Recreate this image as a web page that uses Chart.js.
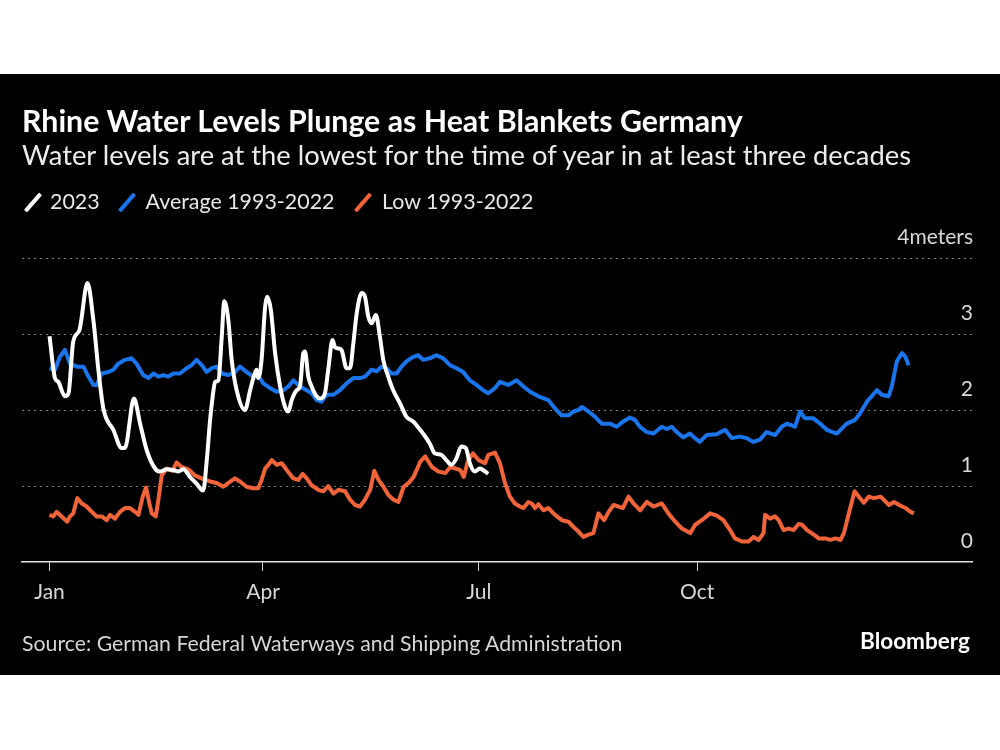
<!DOCTYPE html>
<html><head><meta charset="utf-8">
<script src="https://cdn.jsdelivr.net/npm/chart.js@4.4.0/dist/chart.umd.min.js"></script>
<style>
html,body{margin:0;padding:0;background:#fff;}
#wrap{position:relative;width:1000px;height:750px;overflow:hidden;background:#fff;}
#panel{position:absolute;left:0;top:74px;width:1000px;height:601px;background:#000;}
#c{position:absolute;left:0;top:0;}
.t{position:absolute;white-space:nowrap;font-family:Lato,'Noto Sans',sans-serif;color:#fff;margin:0;padding:0;}
.sw{position:absolute;width:4px;height:23px;border-radius:1px;transform:rotate(41deg);}
</style></head>
<body>
<div id="wrap">
  <div id="panel"></div>
  <canvas id="c" width="1000" height="750"></canvas>
  <div id="title" class="t"></div>
  <div id="subtitle" class="t"></div>
  <div id="legend"></div>
  <div id="source" class="t"></div>
  <div id="brand" class="t"></div>
</div>
<script>
// ---------- text ----------
const titleText = "Rhine Water Levels Plunge as Heat Blankets Germany";
const subtitleText = "Water levels are at the lowest for the time of year in at least three decades";
const sourceText = "Source: German Federal Waterways and Shipping Administration";
const brandText = "Bloomberg";
const seriesNames = ["2023", "Average 1993-2022", "Low 1993-2022"];
const seriesColors = ["#ffffff", "#1a74ec", "#f1643a"];

// ---------- axes ----------
const tickDays = [0, 90, 181, 273];
const tickLabels = ["Jan", "Apr", "Jul", "Oct"];
const yTicks = [0, 1, 2, 3, 4];
const yTickLabels = ["0", "1", "2", "3", "4meters"];

// ---------- data (day of year, meters) ----------
const day2023 = [0,2.3,3.7,6.5,8,10,12.6,16,18.5,20.6,22.7,26.9,30.4,31.8,35.6,38.2,41,44.5,46.6,49.4,52,54.3,56.4,59.2,62,64.8,66.3,67.7,68.8,69.8,71.2,72.6,73.7,75.4,76.8,78.9,82.4,84.5,86.2,87.3,88,89.4,90.9,91.8,93.3,95.1,97.2,99.3,100.7,102.1,104.2,105.6,107,107.7,109.1,110.5,112.6,114,116.1,117.5,119.3,120.3,121.7,123.1,125.2,126.7,128.1,129.5,131.6,133,134.4,135.8,137.6,139.3,140.7,142.8,144.9,147.7,150.5,153.3,154.7,157.5,160.3,162.4,165.2,167.3,169.4,171.5,173.6,175.5,177.2,179.3,181.4,182.8,184.9];
const val2023 = [2.97,2.42,2.37,2.18,2.22,2.9,3.05,3.67,3.18,2.53,2.02,1.74,1.5,1.5,2.15,1.82,1.47,1.23,1.19,1.22,1.21,1.19,1.22,1.12,1.03,0.94,1.34,1.87,2.18,2.37,2.39,2.96,3.43,3.18,2.66,2.26,2.0,2.25,2.45,2.53,2.42,2.66,3.36,3.49,3.32,2.75,2.31,2.04,1.98,2.13,2.26,2.31,2.75,2.77,2.44,2.31,2.18,2.15,2.22,2.53,2.92,2.83,2.81,2.79,2.55,2.55,2.88,3.27,3.54,3.49,3.23,3.14,3.25,2.96,2.66,2.44,2.26,2.09,1.91,1.85,1.80,1.69,1.56,1.43,1.41,1.34,1.28,1.36,1.52,1.50,1.30,1.19,1.23,1.21,1.16];

const dayAvg = [0,2.3,4.4,6.5,8.6,11.5,14.3,16.4,18.5,19.9,22,24.8,26.9,29,31.8,34.6,36.7,39.5,41.7,43.8,45.9,48,50.1,52.2,55,57.8,59.9,62,64.2,66.3,68.4,70.5,72.6,75.4,78.2,80.3,83.1,85.9,88.7,90.1,92.9,95.7,98.6,100.7,102.8,105.6,108.4,110.5,112.6,114.7,116.8,119.6,122.4,125.2,128.1,130.9,133,135.8,137.9,140,142.1,144.2,146.3,148.4,150.5,153.3,155.4,157.5,160.3,163.1,166,168.8,171.6,174.4,177.2,180,182.8,185,187.8,189.9,193.4,196.9,199.8,202.6,206.1,210.3,213.1,215.9,218.8,220.9,223,224.4,227.2,230,232.8,236.3,239.1,241.9,244.7,246.8,248.9,251.7,254.6,258.1,260.2,262.3,264.4,267.2,270,272.1,274.2,277,281.3,284.8,287.6,291.1,293.9,296.7,299.5,302.3,305.9,308.7,310.8,314.3,316.4,318.5,322,324.9,327.7,331.9,336.1,339.6,341.8,344.6,348.8,350.9,353.7,355.1,357.2,359.4,360.8,362.2];
const valAvg = [2.55,2.53,2.70,2.79,2.61,2.57,2.57,2.44,2.33,2.33,2.48,2.50,2.53,2.61,2.66,2.68,2.61,2.46,2.42,2.48,2.44,2.46,2.44,2.48,2.48,2.55,2.59,2.66,2.59,2.50,2.55,2.57,2.48,2.46,2.50,2.57,2.50,2.44,2.42,2.35,2.29,2.24,2.26,2.31,2.39,2.31,2.26,2.22,2.13,2.11,2.20,2.20,2.26,2.35,2.42,2.42,2.44,2.53,2.51,2.57,2.55,2.48,2.48,2.57,2.64,2.70,2.72,2.66,2.68,2.72,2.68,2.59,2.55,2.50,2.39,2.33,2.26,2.22,2.29,2.37,2.33,2.39,2.31,2.24,2.18,2.13,2.02,1.93,1.93,1.98,2.0,2.04,1.98,1.91,1.82,1.82,1.78,1.85,1.90,1.87,1.78,1.71,1.69,1.78,1.75,1.78,1.71,1.64,1.69,1.63,1.58,1.67,1.68,1.74,1.63,1.65,1.63,1.58,1.61,1.71,1.67,1.78,1.82,1.78,1.98,1.89,1.89,1.82,1.74,1.69,1.82,1.87,1.96,2.11,2.26,2.20,2.18,2.31,2.64,2.75,2.70,2.59];

const dayLow = [0,1.6,3,5.1,7.5,8.6,10,11.7,13.6,15.7,17.8,19.9,22,24.1,25.5,27.6,29.7,31.8,33.9,36.1,37.5,39.3,40.7,42.1,43.1,44.8,45.9,47.3,49.4,51.9,53.6,55.7,58.5,61.3,64.8,67.7,70.5,73.3,75.4,78.2,80.3,83.1,85.9,88,89.4,90.9,92.3,93.7,95.8,97.9,100,102.8,104.9,106.7,108.4,110.5,113.3,115.4,117.5,119.7,121.8,124.6,126.7,128.8,130.9,133,135.2,136.9,138.7,140.8,142.9,145,147.1,149.3,151.4,153.5,156.3,158.4,161.2,164,166.9,169,171.1,173.2,174.6,176.3,178.5,180.9,183.6,185,187.8,189.9,192,194.1,196.2,198.3,199.8,201.9,203.3,204.7,206.1,208.2,210.3,213.1,216,218.8,220.9,223,225.1,227.2,229.3,231.4,233.8,235.7,237.8,239.9,241.7,244.1,246.2,249,251.8,254.6,258.1,260.9,263.8,266.6,270.1,272.2,275,278.5,281.3,284.1,286.9,289,291.9,294.7,296.8,298.9,301,301.7,303.8,305.9,307.4,309.5,311.6,313.7,315.8,317.3,319.4,322.2,324.3,327.1,329.2,331.3,333.5,334.9,337,339.4,341.2,343.3,345.4,347.5,350.4,353.9,356,358.8,360.9,363,364.4];
const valLow = [0.62,0.60,0.66,0.60,0.53,0.60,0.64,0.84,0.77,0.73,0.66,0.60,0.60,0.55,0.62,0.57,0.66,0.71,0.71,0.66,0.62,0.86,0.98,0.77,0.64,0.60,0.82,1.14,1.23,1.20,1.31,1.25,1.22,1.14,1.09,1.06,1.04,0.99,1.04,1.10,1.06,0.99,0.97,0.97,1.08,1.23,1.28,1.34,1.28,1.30,1.21,1.10,1.08,1.16,1.10,1.01,0.95,0.93,1.0,0.90,0.95,0.93,0.82,0.75,0.73,0.82,0.95,1.20,1.08,0.99,0.88,0.82,0.79,0.99,1.04,1.12,1.32,1.39,1.25,1.19,1.17,1.25,1.23,1.21,1.12,1.32,1.43,1.34,1.30,1.41,1.44,1.30,1.04,0.86,0.77,0.73,0.71,0.79,0.77,0.71,0.76,0.68,0.71,0.62,0.55,0.53,0.46,0.40,0.33,0.36,0.38,0.64,0.55,0.66,0.75,0.73,0.71,0.86,0.77,0.68,0.79,0.73,0.77,0.64,0.53,0.44,0.38,0.49,0.55,0.64,0.61,0.55,0.42,0.31,0.27,0.27,0.33,0.29,0.38,0.62,0.57,0.60,0.55,0.42,0.44,0.42,0.50,0.49,0.42,0.36,0.31,0.31,0.29,0.31,0.29,0.38,0.64,0.93,0.86,0.78,0.86,0.84,0.86,0.75,0.79,0.74,0.71,0.66,0.64];

// ---------- HTML text placement ----------
const FAM = "Lato";
const mctx = document.createElement('canvas').getContext('2d');
function fitSize(text, weight, width) {
  mctx.font = weight + " 100px " + FAM;
  return 100 * width / mctx.measureText(text).width;
}
function place(el, text, left, baseline, weight, fs, color) {
  el.textContent = text;
  mctx.font = weight + " " + fs + "px " + FAM;
  const m = mctx.measureText(text);
  const A = m.fontBoundingBoxAscent, D = m.fontBoundingBoxDescent;
  el.style.fontFamily = FAM;
  el.style.fontWeight = weight;
  el.style.fontSize = fs + "px";
  el.style.lineHeight = fs + "px";
  el.style.left = left + "px";
  el.style.top = (baseline - ((fs - (A + D)) / 2 + A)) + "px";
  el.style.color = color;
}
place(document.getElementById('title'), titleText, 22, 132, 700, fitSize(titleText, 700, 722), "#ffffff");
place(document.getElementById('subtitle'), subtitleText, 22, 165, 400, fitSize(subtitleText, 400, 892), "#ececec");
place(document.getElementById('source'), sourceText, 22, 652, 400, fitSize(sourceText, 400, 602), "#d6d6d6");
place(document.getElementById('brand'), brandText, 860, 650, 700, fitSize(brandText, 700, 110), "#ffffff");

const legend = document.getElementById('legend');
const legFs = fitSize(seriesNames[1], 400, 189);
const legTextX = [50, 145.5, 382];
const legSwX = [32.5, 127, 363];
seriesNames.forEach((name, i) => {
  const sw = document.createElement('div');
  sw.className = 'sw';
  sw.style.background = seriesColors[i];
  sw.style.left = (legSwX[i] - 2) + 'px';
  sw.style.top = (202.5 - 11.5) + 'px';
  legend.appendChild(sw);
  const t = document.createElement('div');
  t.className = 't';
  legend.appendChild(t);
  place(t, name, legTextX[i], 210, 400, legFs, "#e8e8e8");
});

// ---------- chart ----------
const pts = (xs, ys) => xs.map((x, i) => ({x: x, y: ys[i]}));
const ctx = document.getElementById('c').getContext('2d');
new Chart(ctx, {
  type: 'line',
  data: {
    datasets: [
      {label: seriesNames[0], data: pts(day2023, val2023), borderColor: seriesColors[0], borderWidth: 4,
       pointRadius: 0, cubicInterpolationMode: 'monotone', borderJoinStyle: 'round', fill: false},
      {label: seriesNames[1], data: pts(dayAvg, valAvg), borderColor: seriesColors[1], borderWidth: 4,
       pointRadius: 0, tension: 0, borderJoinStyle: 'round', fill: false},
      {label: seriesNames[2], data: pts(dayLow, valLow), borderColor: seriesColors[2], borderWidth: 4,
       pointRadius: 0, tension: 0, borderJoinStyle: 'round', fill: false}
    ]
  },
  options: {
    responsive: false, animation: false, devicePixelRatio: 1,
    layout: {padding: {left: 22, right: 28, top: 258, bottom: 138}},
    plugins: {legend: {display: false}, tooltip: {enabled: false}, title: {display: false}},
    scales: {
      x: {
        type: 'linear', position: 'bottom', min: -11.6, max: 388.9,
        afterBuildTicks: s => { s.ticks = tickDays.map(v => ({value: v})); },
        afterFit: s => { s.height = 50; },
        ticks: {autoSkip: false, maxRotation: 0, minRotation: 0, padding: 9, color: '#d8d8d8',
                font: {family: FAM, size: 21}, callback: (v, i) => tickLabels[i]},
        grid: {drawOnChartArea: false, drawTicks: true, tickLength: 9, tickColor: '#cfcfcf', tickWidth: 1},
        border: {display: true, color: '#e6e6e6', width: 1.5}
      },
      y: {
        position: 'right', min: 0, max: 4,
        afterBuildTicks: s => { s.ticks = yTicks.map(v => ({value: v})); },
        afterFit: s => { s.width = 0; },
        ticks: {mirror: true, padding: 1, labelOffset: -21, color: '#d8d8d8',
                font: {family: FAM, size: 21}, callback: (v, i) => yTickLabels[i]},
        grid: {drawTicks: false, lineWidth: 1,
               color: c => (c.tick && c.tick.value === 0) ? 'rgba(0,0,0,0)' : '#7c7c7c'},
        border: {display: false, dash: [2, 4]}
      }
    }
  }
});
</script>
</body></html>
